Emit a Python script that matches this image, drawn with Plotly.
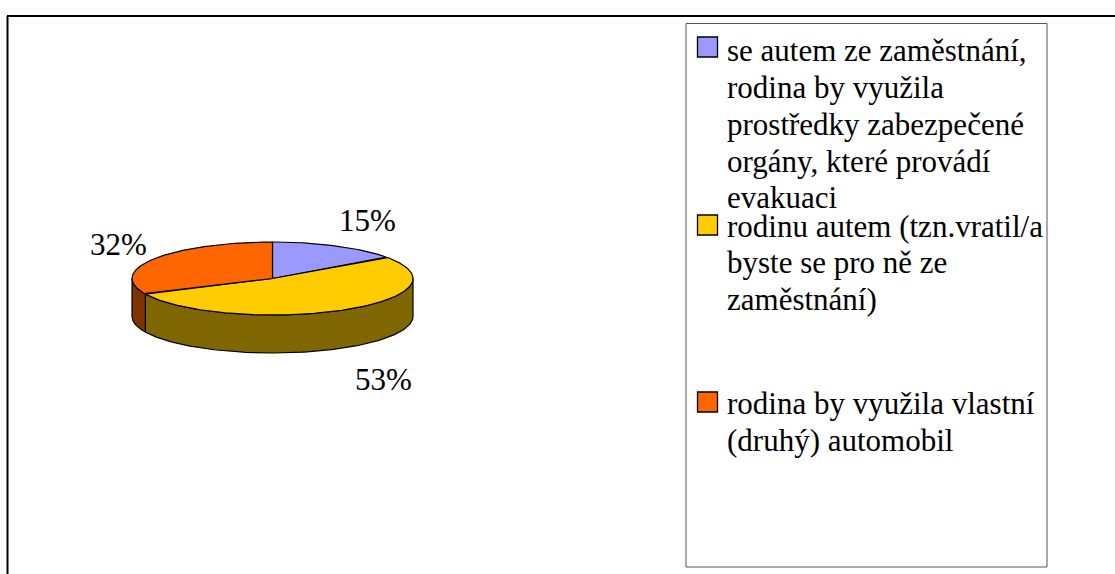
import numpy as np
import plotly.graph_objects as go

shares = [15, 53, 32]
slice_colors = ["#9999FF", "#FFCC00", "#FF6600"]
wall_colors = ["#4D4D80", "#806600", "#803300"]
legend_lines = [
    ["se autem ze zaměstnání,", "rodina by využila", "prostředky zabezpečené", "orgány, které provádí", "evakuaci"],
    ["rodinu autem (tzn.vratil/a", "byste se pro ně ze", "zaměstnání)"],
    ["rodina by využila vlastní", "(druhý) automobil"],
]

W, H = 1115, 574
CX, CY, RX, RY, DEPTH = 272.5, 278.5, 140.5, 36.5, 38
FONT = "Liberation Serif"
FS = 31
LABEL_POS = [(367, 220), (383, 379), (118, 244)]
LEGEND_TOPS = [36.5, 214.5, 391.5]
LINE_Y = [[50, 87, 124, 161, 197], [226, 262, 299], [403, 440]]

fractions = np.array(shares, dtype=float) / sum(shares)
edges = np.concatenate([[0], np.cumsum(fractions)]) * 2 * np.pi


def rim(a0, a1, dy=0.0):
    t = np.linspace(a0, a1, max(int((a1 - a0) * 60), 2))
    return CX + RX * np.sin(t), CY - RY * np.cos(t) + dy


fig = go.Figure()
OUT = dict(color="black", width=1.2)

# side walls: only the front half (90 to 270 degrees) is visible
for i in range(3):
    a0, a1 = max(edges[i], np.pi / 2), min(edges[i + 1], 3 * np.pi / 2)
    if a1 <= a0:
        continue
    x0, y0 = rim(a0, a1)
    x1, y1 = rim(a0, a1, DEPTH)
    fig.add_trace(go.Scatter(
        x=np.concatenate([x0, x1[::-1], x0[:1]]),
        y=np.concatenate([y0, y1[::-1], y0[:1]]),
        mode="lines", fill="toself", fillcolor=wall_colors[i], line=OUT, hoverinfo="skip"))

# top wedges
for i in range(3):
    x0, y0 = rim(edges[i], edges[i + 1])
    fig.add_trace(go.Scatter(
        x=np.concatenate([[CX], x0, [CX]]),
        y=np.concatenate([[CY], y0, [CY]]),
        mode="lines", fill="toself", fillcolor=slice_colors[i], line=OUT, hoverinfo="skip"))

shapes = [
    dict(type="line", x0=7.5, x1=7.5, y0=16, y1=H, line=dict(color="black", width=2)),
    dict(type="line", x0=7, x1=W, y0=16, y1=16, line=dict(color="black", width=2)),
    dict(type="rect", x0=686, x1=1047, y0=23.5, y1=567, line=dict(color="#555555", width=1), fillcolor="white", layer="below"),
]
annotations = []
for (x, y), v in zip(LABEL_POS, shares):
    annotations.append(dict(x=x, y=y, text=f"{v}%", showarrow=False, xanchor="center", yanchor="middle",
                            font=dict(family=FONT, size=FS, color="black")))
for i in range(3):
    top = LEGEND_TOPS[i]
    shapes.append(dict(type="rect", x0=697.5, x1=717.5, y0=top + 0.5, y1=top + 20.5,
                       fillcolor=slice_colors[i], line=dict(color="black", width=1.3)))
    for text, y in zip(legend_lines[i], LINE_Y[i]):
        annotations.append(dict(x=724.5, y=y, text=text, showarrow=False, xanchor="left", yanchor="middle",
                                font=dict(family=FONT, size=FS, color="black")))

fig.update_layout(
    width=W, height=H, margin=dict(l=0, r=0, t=0, b=0),
    paper_bgcolor="white", plot_bgcolor="white", showlegend=False,
    xaxis=dict(range=[0, W], visible=False, fixedrange=True),
    yaxis=dict(range=[H, 0], visible=False, fixedrange=True),
    shapes=shapes, annotations=annotations,
)
fig.write_html("out.html", config={"displayModeBar": False},
               post_script="document.body.style.margin='0';document.body.style.overflow='hidden';")
